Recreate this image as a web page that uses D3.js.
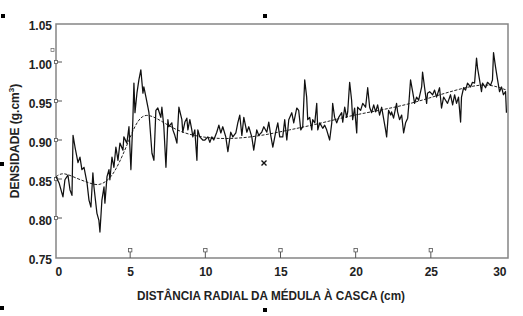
<!DOCTYPE html>
<meta charset="utf-8">
<script src="https://d3js.org/d3.v7.min.js"></script>
<style>
  body { margin: 0; background: #fff; }
  text { font-family: "Liberation Sans", Arial, sans-serif; font-weight: bold; fill: #222; }
</style>
<div id="chart"></div>
<script>

// density profile (distance in cm, density in g.cm-3)
var distance = [0.07,0.27,0.53,0.66,0.86,1.00,1.13,1.20,1.33,1.53,1.66,1.79,1.93,2.13,2.26,2.39,2.52,2.59,2.79,2.92,2.99,3.12,3.26,3.32,3.46,3.59,3.65,3.79,3.92,4.05,4.19,4.32,4.52,4.58,4.78,4.92,5.05,5.18,5.25,
  5.32,5.45,5.58,5.71,5.85,5.91,6.05,6.18,6.25,6.45,6.58,6.71,6.84,7.04,7.11,7.24,7.38,7.51,7.57,7.77,7.84,7.97,8.11,8.24,8.44,8.50,8.64,8.77,8.84,8.97,9.10,9.17,9.30,9.44,9.50,9.63,9.83,
  9.97,10.17,10.30,10.43,10.56,10.76,10.90,11.03,11.16,11.36,11.50,11.69,11.83,12.03,12.16,12.29,12.43,12.56,12.76,12.89,13.09,13.22,13.42,13.55,13.75,13.89,14.09,14.22,14.35,14.49,14.68,14.82,14.95,
  15.15,15.28,15.42,15.55,15.75,15.88,16.08,16.21,16.35,16.48,16.61,16.74,16.81,16.94,17.08,17.14,17.28,17.41,17.48,17.61,17.81,17.94,18.07,18.27,18.41,18.47,18.60,18.74,18.87,19.07,19.14,19.27,19.40,19.47,19.60,19.73,19.80,
  19.93,20.07,20.13,20.33,20.47,20.66,20.80,20.93,21.06,21.20,21.33,21.46,21.59,21.73,21.79,21.99,22.06,22.19,22.33,22.39,22.52,22.72,22.79,22.92,23.06,23.19,23.32,23.46,23.52,23.65,23.79,23.92,24.05,24.19,24.39,24.45,24.58,24.72,24.78,
  24.92,25.12,25.25,25.38,25.58,25.71,25.85,25.98,26.11,26.31,26.45,26.58,26.71,26.84,26.98,27.04,27.18,27.31,27.44,27.64,27.77,27.91,28.04,28.11,28.24,28.37,28.44,28.64,28.77,28.97,29.10,29.17,29.30,29.44,29.57,29.70,29.83,29.97,30.03];
var density = [0.853,0.845,0.827,0.849,0.855,0.836,0.829,0.906,0.891,0.871,0.878,0.862,0.865,0.845,0.823,0.814,0.858,0.840,0.806,0.797,0.782,0.823,0.840,0.819,0.853,0.862,0.849,0.878,0.865,0.891,0.874,0.896,0.887,0.904,0.896,0.917,0.862,0.926,0.973,
  0.935,0.960,0.977,0.990,0.960,0.968,0.955,0.942,0.935,0.883,0.874,0.938,0.941,0.929,0.942,0.917,0.865,0.926,0.917,0.922,0.913,0.906,0.896,0.942,0.926,0.910,0.923,0.928,0.913,0.926,0.913,0.904,0.913,0.874,0.913,0.904,0.900,
  0.900,0.904,0.897,0.904,0.900,0.910,0.919,0.909,0.917,0.904,0.885,0.910,0.904,0.909,0.922,0.932,0.906,0.929,0.910,0.917,0.904,0.887,0.913,0.906,0.910,0.917,0.910,0.923,0.906,0.891,0.910,0.922,0.904,
  0.904,0.926,0.900,0.926,0.935,0.922,0.941,0.938,0.913,0.917,0.977,0.955,0.926,0.929,0.913,0.926,0.922,0.947,0.913,0.922,0.915,0.919,0.913,0.900,0.922,0.947,0.929,0.922,0.929,0.935,0.923,0.942,0.929,0.936,0.974,0.951,0.926,
  0.941,0.909,0.942,0.938,0.947,0.942,0.967,0.942,0.935,0.945,0.936,0.945,0.932,0.942,0.935,0.913,0.904,0.938,0.932,0.936,0.928,0.947,0.936,0.926,0.932,0.909,0.922,0.928,0.942,0.977,0.962,0.947,0.955,0.951,0.968,0.987,0.968,0.947,0.960,
  0.962,0.958,0.964,0.955,0.967,0.941,0.955,0.951,0.947,0.958,0.945,0.958,0.947,0.955,0.923,0.955,0.967,0.964,0.973,0.968,0.974,0.973,1.005,0.992,0.977,0.962,0.973,0.967,0.974,0.970,0.977,1.012,0.994,0.977,0.962,0.968,0.958,0.962,0.935];

// smoothed trend (dashed curve)
var trendDistance = [0.07,0.53,1.40,2.26,2.92,3.59,4.05,4.52,5.05,5.51,6.11,7.18,8.31,9.83,11.63,13.62,15.61,17.61,19.60,21.59,23.59,25.58,27.57,28.90,30.03];
var trendDensity  = [0.853,0.859,0.851,0.845,0.841,0.849,0.862,0.881,0.906,0.926,0.935,0.923,0.910,0.903,0.901,0.905,0.913,0.921,0.931,0.938,0.946,0.958,0.969,0.972,0.964];

var xTicks = [0, 5, 10, 15, 20, 25, 30];
var yTicks = [0.75, 0.80, 0.85, 0.90, 0.95, 1.00, 1.05];

var width = 523, height = 316;

var svg = d3.select("#chart")
  .append("svg")
    .attr("width", width)
    .attr("height", height);

var x = d3.scaleLinear().domain([0, 30]).range([55, 506]);
var y = d3.scaleLinear().domain([0.75, 1.05]).range([257, 23]);

// frame
svg.append("rect")
  .attr("x", 56).attr("y", 24)
  .attr("width", 452).attr("height", 234)
  .style("fill", "none")
  .style("stroke", "#858585")
  .style("stroke-width", 1.5);

// y axis labels
var yAxis = svg.append("g")
  .attr("transform", "translate(56,0)")
  .call(d3.axisLeft(y).tickValues(yTicks).tickSize(0).tickPadding(4).tickFormat(d3.format(".2f")));
yAxis.select(".domain").remove();
yAxis.selectAll("text")
  .style("font-size", "12px")
  .attr("dy", "0.5em")
  .style("font-family", "'Liberation Sans', Arial, sans-serif")
  .style("font-weight", "bold")
  .style("fill", "#222");

// inner y ticks with their little squares
var yInner = yTicks.slice(1, -1);
svg.selectAll(".ytick")
  .data(yInner)
  .enter().append("line")
    .attr("x1", 56).attr("x2", 62)
    .attr("y1", function(d) { return y(d); })
    .attr("y2", function(d) { return y(d); })
    .style("stroke", "#555").style("stroke-width", 1);
svg.selectAll(".ysq")
  .data(yInner)
  .enter().append("rect")
    .attr("x", 54.5).attr("width", 3).attr("height", 3)
    .attr("y", function(d) { return y(d) - 1.5; })
    .style("fill", "#fff").style("stroke", "#555").style("stroke-width", 0.8);

// x axis labels
var xAxis = svg.append("g")
  .attr("transform", "translate(0,258)")
  .call(d3.axisBottom(x).tickValues(xTicks).tickSize(0).tickPadding(9).tickFormat(d3.format("d")));
xAxis.select(".domain").remove();
xAxis.selectAll("text")
  .style("font-size", "12px")
  .style("font-family", "'Liberation Sans', Arial, sans-serif")
  .style("font-weight", "bold")
  .style("fill", "#222")
  .attr("text-anchor", function(d, i) { return i === 0 ? "start" : (i === xTicks.length - 1 ? "end" : "middle"); });

// inner x ticks (pointing up) with squares
var xInner = xTicks.slice(1, -1);
svg.selectAll(".xtick")
  .data(xInner)
  .enter().append("line")
    .attr("x1", function(d) { return x(d); })
    .attr("x2", function(d) { return x(d); })
    .attr("y1", 258).attr("y2", 252)
    .style("stroke", "#555").style("stroke-width", 1);
svg.selectAll(".xsq")
  .data(xInner)
  .enter().append("rect")
    .attr("x", function(d) { return x(d) - 1.7; })
    .attr("y", 248.5).attr("width", 3.4).attr("height", 3.4)
    .style("fill", "#fff").style("stroke", "#555").style("stroke-width", 0.8);

// axis titles
svg.append("text")
  .attr("x", 271).attr("y", 300)
  .attr("text-anchor", "middle")
  .attr("textLength", 268)
  .attr("lengthAdjust", "spacingAndGlyphs")
  .style("font-size", "12px")
  .text("DISTÂNCIA RADIAL DA MÉDULA À CASCA (cm)");

var yTitle = svg.append("text")
  .attr("transform", "translate(19,141) rotate(-90)")
  .attr("text-anchor", "middle")
  .style("font-size", "12px");
yTitle.append("tspan").text("DENSIDADE (g.cm");
yTitle.append("tspan").attr("dy", -5).style("font-size", "8px").text("3");
yTitle.append("tspan").attr("dy", 5).text(")");

// trend curve
var trend = trendDistance.map(function(d, i) { return [d, trendDensity[i]]; });
svg.append("path")
  .datum(trend)
  .attr("d", d3.line()
    .curve(d3.curveBasis)
    .x(function(d) { return x(d[0]); })
    .y(function(d) { return y(d[1]); }))
  .style("fill", "none")
  .style("stroke", "#222")
  .style("stroke-width", 1)
  .style("stroke-dasharray", "3,1.5");

// density profile
var profile = distance.map(function(d, i) { return [d, density[i]]; });
svg.append("path")
  .datum(profile)
  .attr("d", d3.line()
    .x(function(d) { return x(d[0]); })
    .y(function(d) { return y(d[1]); }))
  .style("fill", "none")
  .style("stroke", "#111")
  .style("stroke-width", 1.25)
  .style("stroke-linejoin", "round");

// selection handles from the scanned figure
var handles = [[1, 14], [263, 14], [0, 162], [0, 306], [263, 308]];
svg.selectAll(".handle")
  .data(handles)
  .enter().append("rect")
    .attr("x", function(d) { return d[0]; })
    .attr("y", function(d) { return d[1]; })
    .attr("width", 4).attr("height", 4)
    .style("fill", "#000");

// centre cross
svg.append("path")
  .attr("d", "M261.5,160.5L266.5,165.5M266.5,160.5L261.5,165.5")
  .style("stroke", "#111").style("stroke-width", 1.4);

// small stray square near the top of the y axis
svg.append("rect")
  .attr("x", 51).attr("y", 48.5).attr("width", 3).attr("height", 3)
  .style("fill", "#fff").style("stroke", "#666").style("stroke-width", 0.7);

</script>
